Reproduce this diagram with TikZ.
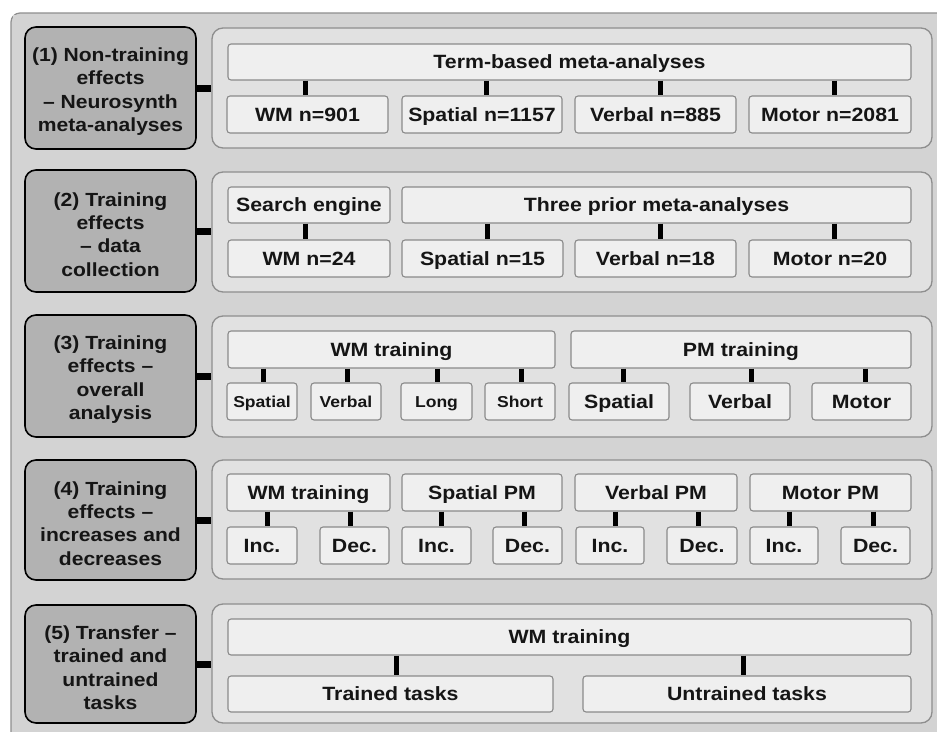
\documentclass[tikz,border=0pt]{standalone}
\usepackage{fontspec}
\setmainfont[FakeStretch=1.11]{Liberation Sans}
\definecolor{outerbg}{HTML}{D3D3D3}
\definecolor{outerbd}{HTML}{8E8E8E}
\definecolor{leftfill}{HTML}{B2B2B2}
\definecolor{panelfill}{HTML}{E1E1E1}
\definecolor{pborder}{HTML}{8E8E8E}
\definecolor{boxfill}{HTML}{EFEFEF}
\definecolor{bborder}{HTML}{8A8A8A}
\definecolor{txt}{HTML}{151515}
\newcommand{\mkbox}[7][ibox]{\node[#1, minimum width={#5-#3}, minimum height={#6-#4}] (#2) at ({(#3+#5)/2},{(#4+#6)/2}) {#7};}
\newcommand{\mkleft}[6]{\node[lbox, minimum width={#5-#3}, minimum height={#6-#4}, label={[ltext]center:#2}] (#1) at ({(#3+#5)/2},{(#4+#6)/2}) {};}
\tikzset{
  lbox/.style={draw=black, line width=1.6pt, fill=leftfill, rounded corners=11pt, inner sep=0pt},
  ltext/.style={align=center, inner sep=0pt, yshift=-3.5pt, text=txt, font=\bfseries\fontsize{19}{23.4}\selectfont},
  panel/.style={draw=pborder, line width=1.3pt, fill=panelfill, rounded corners=11pt, inner sep=0pt},
  ibox/.style={draw=bborder, line width=1.1pt, fill=boxfill, rounded corners=3pt, inner sep=0pt, text=txt, text height=13.6pt, text depth=0pt, font=\bfseries\fontsize{19.2}{23}\selectfont},
  sbox/.style={ibox, text height=11.3pt, font=\bfseries\fontsize{15.8}{18}\selectfont},
  vbar/.style={draw=black, line width=5pt},
  hbar/.style={draw=black, line width=7pt},
}
\begin{document}
\begin{tikzpicture}[x=1pt,y=-1pt]
\useasboundingbox (0,0) rectangle (937,731);
\fill[white] (0,0) rectangle (937,731);
\filldraw[fill=outerbg, draw=outerbd, line width=1.2pt, rounded corners=9pt] (950,13) -- (11,13) -- (11,745);
\fill[outerbg] (13,15) rectangle (945,745);
% left boxes
\mkleft{L1}{(1) Non-training\\effects\\– Neurosynth\\meta-analyses}{25}{27}{196}{149}
\mkleft{L2}{(2) Training\\effects\\– data\\collection}{25}{170}{196}{292}
\mkleft{L3}{(3) Training\\effects –\\overall\\analysis}{25}{315}{196}{437}
\mkleft{L4}{(4) Training\\effects –\\increases and\\decreases}{25}{460}{196}{580}
\mkleft{L5}{(5) Transfer –\\trained and\\untrained\\tasks}{25}{605}{196}{723}
% panels
\mkbox[panel]{P1}{212}{28}{932}{148}{}
\mkbox[panel]{P2}{212}{172}{932}{292}{}
\mkbox[panel]{P3}{212}{316}{932}{437}{}
\mkbox[panel]{P4}{212}{460}{932}{579}{}
\mkbox[panel]{P5}{212}{604}{932}{723}{}
\foreach \i in {1,...,5} {\draw[hbar] (L\i.east) -- (L\i.east -| P\i.west);}
% row 1
\mkbox{t1}{228}{44}{911}{80}{Term-based meta-analyses}
\mkbox{b11}{227}{96}{388}{133}{WM n=901}
\mkbox{b12}{402}{96}{562}{133}{Spatial n=1157}
\mkbox{b13}{575}{96}{736}{133}{Verbal n=885}
\mkbox{b14}{749}{96}{911}{133}{Motor n=2081}
\draw[vbar] (305,0 |- t1.south) -- (305,0 |- b11.north);
\draw[vbar] (486,0 |- t1.south) -- (486,0 |- b12.north);
\draw[vbar] (660,0 |- t1.south) -- (660,0 |- b13.north);
\draw[vbar] (834,0 |- t1.south) -- (834,0 |- b14.north);
% row 2
\mkbox{t21}{228}{187}{390}{223}{Search engine}
\mkbox{t22}{402}{187}{911}{223}{Three prior meta-analyses}
\mkbox{b21}{228}{240}{390}{277}{WM n=24}
\mkbox{b22}{402}{240}{563}{277}{Spatial n=15}
\mkbox{b23}{575}{240}{736}{277}{Verbal n=18}
\mkbox{b24}{749}{240}{911}{277}{Motor n=20}
\draw[vbar] (305,0 |- t21.south) -- (305,0 |- b21.north);
\draw[vbar] (487,0 |- t22.south) -- (487,0 |- b22.north);
\draw[vbar] (660,0 |- t22.south) -- (660,0 |- b23.north);
\draw[vbar] (834,0 |- t22.south) -- (834,0 |- b24.north);
% row 3
\mkbox{t31}{228}{331}{555}{368}{WM training}
\mkbox{t32}{571}{331}{911}{368}{PM training}
\mkbox[sbox]{b31}{227}{383}{297}{420}{Spatial}
\mkbox[sbox]{b32}{311}{383}{381}{420}{Verbal}
\mkbox[sbox]{b33}{401}{383}{472}{420}{Long}
\mkbox[sbox]{b34}{485}{383}{555}{420}{Short}
\mkbox{b35}{569}{383}{669}{420}{Spatial}
\mkbox{b36}{690}{383}{790}{420}{Verbal}
\mkbox{b37}{812}{383}{911}{420}{Motor}
\draw[vbar] (263,0 |- t31.south) -- (263,0 |- b31.north);
\draw[vbar] (347,0 |- t31.south) -- (347,0 |- b32.north);
\draw[vbar] (437,0 |- t31.south) -- (437,0 |- b33.north);
\draw[vbar] (521,0 |- t31.south) -- (521,0 |- b34.north);
\draw[vbar] (623,0 |- t32.south) -- (623,0 |- b35.north);
\draw[vbar] (751,0 |- t32.south) -- (751,0 |- b36.north);
\draw[vbar] (865,0 |- t32.south) -- (865,0 |- b37.north);
% row 4
\mkbox{t41}{227}{474}{390}{511}{WM training}
\mkbox{t42}{402}{474}{562}{511}{Spatial PM}
\mkbox{t43}{575}{474}{737}{511}{Verbal PM}
\mkbox{t44}{750}{474}{911}{511}{Motor PM}
\mkbox{b41}{227}{527}{297}{564}{Inc.}
\mkbox{b42}{320}{527}{389}{564}{Dec.}
\mkbox{b43}{402}{527}{471}{564}{Inc.}
\mkbox{b44}{493}{527}{562}{564}{Dec.}
\mkbox{b45}{576}{527}{644}{564}{Inc.}
\mkbox{b46}{667}{527}{737}{564}{Dec.}
\mkbox{b47}{750}{527}{818}{564}{Inc.}
\mkbox{b48}{841}{527}{910}{564}{Dec.}
\draw[vbar] (267,0 |- t41.south) -- (267,0 |- b41.north);
\draw[vbar] (350,0 |- t41.south) -- (350,0 |- b42.north);
\draw[vbar] (441,0 |- t42.south) -- (441,0 |- b43.north);
\draw[vbar] (524,0 |- t42.south) -- (524,0 |- b44.north);
\draw[vbar] (615,0 |- t43.south) -- (615,0 |- b45.north);
\draw[vbar] (698,0 |- t43.south) -- (698,0 |- b46.north);
\draw[vbar] (789,0 |- t44.south) -- (789,0 |- b47.north);
\draw[vbar] (873,0 |- t44.south) -- (873,0 |- b48.north);
% row 5
\mkbox{t51}{228}{619}{911}{655}{WM training}
\mkbox{b51}{228}{676}{553}{712}{Trained tasks}
\mkbox{b52}{583}{676}{911}{712}{Untrained tasks}
\draw[vbar] (396,0 |- t51.south) -- (396,0 |- b51.north);
\draw[vbar] (743,0 |- t51.south) -- (743,0 |- b52.north);
\end{tikzpicture}
\end{document}
